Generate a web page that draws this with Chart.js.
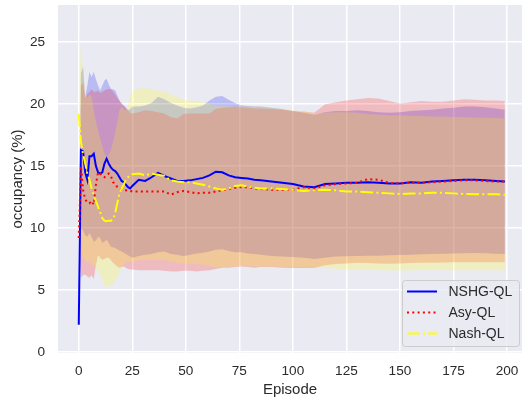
<!DOCTYPE html>
<html>
<head>
<meta charset="utf-8">
<script src="https://cdn.jsdelivr.net/npm/chart.js@4"></script>
<style>
  html, body { margin: 0; padding: 0; background: #ffffff; }
  canvas { display: block; }
</style>
</head>
<body>
<canvas id="chart" width="522" height="402"></canvas>
<script>
// Episode positions where the running statistics were sampled
const episodes = [
  0, 1, 2, 3, 4, 5, 6, 7, 8, 9, 10, 11, 12,
  13, 14, 15, 16, 17, 18, 19, 20, 21, 22, 23, 24, 25,
  28, 31, 34, 37, 40, 43, 46, 49, 52, 55, 58, 61, 64, 67, 70, 73, 76, 79, 82, 85,
  90, 95, 100, 105, 110, 115, 120, 125, 130, 135, 140, 145, 150, 155, 160, 165, 170, 175, 180, 185, 190, 195, 199
];

const seriesNames = ['NSHG-QL', 'Asy-QL', 'Nash-QL'];

// NSHG-QL: mean occupancy and band
const nshgMean = [
  2.2, 16.3, 16.2, 14.5, 13.9, 15.8, 15.8, 16.0, 15.0, 14.5, 14.4, 14.5, 15.2,
  15.6, 15.2, 14.9, 14.7, 14.6, 14.4, 14.1, 13.8, 13.7, 13.5, 13.3, 13.2, 13.4,
  13.9, 13.8, 14.1, 14.45, 14.2, 14.0, 13.8, 13.8, 13.85, 13.95, 14.05, 14.25, 14.55, 14.5, 14.25, 14.1, 14.05, 14.0, 13.9, 13.85,
  13.75, 13.65, 13.55, 13.35, 13.3, 13.55, 13.6, 13.65, 13.65, 13.7, 13.65, 13.6, 13.6, 13.7, 13.65, 13.75, 13.8, 13.85, 13.9, 13.9, 13.85, 13.8, 13.75
];
const nshgUpper = [
  3.2, 22.5, 23.0, 20.6, 21.5, 22.6, 22.2, 22.6, 22.0, 21.5, 21.1, 21.5, 21.9,
  22.05, 21.6, 21.25, 21.2, 21.1, 20.7, 20.3, 20.0, 19.9, 19.7, 19.5, 19.6, 19.8,
  19.8, 19.9, 20.1, 20.6, 20.4, 20.1, 19.9, 19.7, 19.65, 19.75, 19.9, 20.3, 20.6, 20.65, 20.35, 20.1, 19.9, 19.85, 19.8, 19.8,
  19.7, 19.6, 19.45, 19.3, 19.15, 19.35, 19.45, 19.45, 19.5, 19.45, 19.35, 19.3, 19.35, 19.45, 19.5, 19.55, 19.65, 19.7, 19.8, 19.8, 19.75, 19.65, 19.55
];
const nshgLower = [
  1.2, 10.0, 9.8, 9.4, 9.3, 9.6, 9.3, 8.9, 9.0, 9.3, 9.2, 8.8, 8.9,
  9.05, 8.8, 8.5, 8.45, 8.4, 8.3, 8.2, 8.1, 8.0, 7.9, 7.8, 7.7, 7.6,
  7.75, 7.85, 7.9, 8.05, 8.1, 7.9, 7.85, 7.75, 7.85, 7.95, 8.0, 8.1, 8.25, 8.3, 8.15, 8.05, 8.05, 7.95, 7.9, 7.85,
  7.75, 7.7, 7.67, 7.6, 7.5, 7.6, 7.7, 7.72, 7.75, 7.77, 7.77, 7.8, 7.82, 7.85, 7.88, 7.9, 7.93, 7.95, 7.97, 7.99, 7.97, 7.93, 7.9
];

// Asy-QL: mean occupancy and band
const asyMean = [
  9.2, 15.0, 13.1, 12.3, 12.1, 12.0, 12.2, 11.9, 13.5, 14.5, 14.4, 14.2, 14.1,
  14.3, 14.4, 14.2, 13.7, 13.6, 13.3, 13.15, 13.1, 13.1, 13.05, 13.0, 13.0, 12.95,
  12.95, 12.95, 12.95, 12.95, 12.95, 12.7, 12.9, 13.0, 12.9, 12.8, 12.85, 12.85, 12.95, 13.05, 13.15, 13.25, 13.3, 13.3, 13.2, 13.15,
  13.1, 13.1, 13.1, 13.3, 13.2, 13.45, 13.55, 13.6, 13.65, 13.95, 13.9, 13.65, 13.6, 13.65, 13.65, 13.7, 13.75, 13.8, 13.85, 13.85, 13.8, 13.75, 13.75
];
const asyUpper = [
  10.0, 21.5, 21.7, 20.5, 20.8, 21.0, 21.2, 21.0, 21.0, 21.1, 20.9, 21.0, 21.1,
  21.2, 21.25, 21.2, 21.0, 20.8, 20.5, 20.3, 20.1, 19.9, 19.7, 19.5, 19.3, 19.25,
  19.35, 19.5, 19.45, 19.35, 19.25, 18.95, 18.85, 19.2, 19.25, 19.25, 19.25, 19.25, 19.6, 19.7, 19.75, 19.8, 19.75, 19.7, 19.65, 19.65,
  19.6, 19.55, 19.45, 19.4, 19.3, 20.0, 20.15, 20.3, 20.4, 20.5, 20.45, 20.25, 20.05, 20.15, 20.25, 20.2, 20.2, 20.3, 20.4, 20.35, 20.3, 20.3, 20.25
];
const asyLower = [
  8.5, 6.0, 6.2, 6.25, 6.1, 6.0, 6.2, 5.9, 7.0, 7.8, 7.6, 7.45, 7.5,
  7.6, 7.6, 7.4, 7.2, 7.05, 6.9, 6.8, 6.85, 6.9, 6.8, 6.7, 6.65, 6.65,
  6.6, 6.6, 6.6, 6.6, 6.55, 6.5, 6.5, 6.55, 6.55, 6.5, 6.55, 6.6, 6.7, 6.8, 6.8, 6.85, 6.9, 6.85, 6.8, 6.85,
  6.85, 6.8, 6.78, 6.78, 6.78, 7.0, 7.1, 7.15, 7.2, 7.18, 7.15, 7.13, 7.15, 7.18, 7.2, 7.2, 7.22, 7.24, 7.25, 7.25, 7.25, 7.24, 7.24
];

// Nash-QL: mean occupancy and band
const nashMean = [
  19.2, 17.0, 16.0, 15.2, 14.4, 13.9, 13.2, 12.6, 12.2, 11.7, 11.3, 10.8, 10.6,
  10.55, 10.6, 10.6, 10.7, 11.2, 12.0, 12.8, 13.2, 13.5, 13.9, 14.1, 14.3, 14.35,
  14.4, 14.25, 14.4, 14.3, 14.2, 13.85, 13.75, 13.7, 13.7, 13.6, 13.5, 13.35, 13.2, 13.1, 13.2, 13.4, 13.45, 13.35, 13.25, 13.2,
  13.2, 13.15, 13.1, 13.0, 13.05, 13.1, 13.05, 12.95, 12.95, 12.9, 12.85, 12.8, 12.75, 12.78, 12.8, 12.85, 12.85, 12.8, 12.75, 12.72, 12.72, 12.72, 12.68
];
const nashUpper = [
  26.7, 23.5, 22.8, 21.0, 20.5, 20.8, 20.6, 19.5, 18.6, 17.9, 17.2, 16.6, 16.0,
  15.75, 15.9, 16.3, 16.9, 17.7, 18.6, 19.5, 19.8, 19.6, 19.5, 19.9, 20.6, 21.1,
  21.25, 21.3, 21.2, 21.1, 21.0, 20.8, 20.6, 20.35, 20.3, 20.2, 20.15, 20.0, 19.9, 19.85, 19.8, 19.8, 19.8, 19.8, 19.8, 19.8,
  19.7, 19.6, 19.5, 19.4, 19.25, 19.3, 19.35, 19.35, 19.3, 19.2, 19.15, 19.1, 19.1, 19.05, 19.05, 19.0, 19.0, 18.97, 18.95, 18.9, 18.9, 18.88, 18.85
];
const nashLower = [
  11.7, 8.0, 7.6, 7.4, 7.3, 7.2, 7.1, 7.0, 6.8, 6.5, 6.2, 5.75, 5.4,
  5.27, 5.3, 5.35, 5.5, 5.75, 6.1, 6.5, 6.8, 7.05, 7.2, 7.3, 7.32, 7.32,
  7.4, 7.45, 7.45, 7.45, 7.4, 7.32, 7.22, 7.15, 7.15, 7.1, 7.05, 6.95, 6.85, 6.85, 6.88, 6.9, 6.95, 6.92, 6.9, 6.9,
  6.9, 6.88, 6.86, 6.84, 6.8, 6.78, 6.72, 6.68, 6.65, 6.62, 6.6, 6.57, 6.57, 6.58, 6.6, 6.6, 6.6, 6.6, 6.6, 6.6, 6.6, 6.6, 6.6
];

const xTicks = [0, 25, 50, 75, 100, 125, 150, 175, 200];
const yTicks = [0, 5, 10, 15, 20, 25];

const FONT = '"Liberation Sans", Arial, Helvetica, sans-serif';
const TEXT = '#2b2b2b';

const toPoints = ys => episodes.map((x, i) => ({ x: x, y: ys[i] }));

// shaded band: upper edge followed by the lower edge filled back to it
function band(upper, lower, rgb, order) {
  const fillCol = 'rgba(' + rgb + ',0.2)';
  return [
    { label: '', data: toPoints(upper), borderWidth: 0, borderColor: 'rgba(0,0,0,0)',
      pointRadius: 0, fill: false, order: order, isBand: true },
    { label: '', data: toPoints(lower), borderWidth: 0, borderColor: 'rgba(0,0,0,0)',
      backgroundColor: fillCol, pointRadius: 0, fill: '-1', order: order, isBand: true }
  ];
}

function meanLine(name, values, color, dash, order) {
  return { label: name, data: toPoints(values), borderColor: color, borderWidth: 2,
    borderDash: dash, borderCapStyle: 'butt', pointRadius: 0, fill: false,
    order: order, isMeanLine: true };
}

const datasets = [].concat(
  band(nshgUpper, nshgLower, '0,0,255', 30),
  band(asyUpper, asyLower, '255,0,0', 20),
  band(nashUpper, nashLower, '255,255,0', 10),
  [
    meanLine(seriesNames[0], nshgMean, '#0000ff', [], 3),
    meanLine(seriesNames[1], asyMean, '#ff0000', [2, 3.3], 2),
    meanLine(seriesNames[2], nashMean, '#ffff00', [12.8, 3.2, 2, 3.2], 1)
  ]
);

// grey panel behind the plot
const panelBackground = {
  id: 'panelBackground',
  beforeDraw(chart) {
    const { ctx, chartArea: a } = chart;
    ctx.save();
    ctx.fillStyle = '#eaeaf2';
    ctx.fillRect(a.left, a.top, a.right - a.left, a.bottom - a.top);
    ctx.restore();
  }
};

// framed legend in the lower right corner of the plot
const cornerLegend = {
  id: 'cornerLegend',
  afterDatasetsDraw(chart) {
    const { ctx, chartArea: a } = chart;
    const items = chart.data.datasets.filter(d => d.isMeanLine);
    const w = 117, h = 66;
    const x0 = a.right - 3 - w, y0 = a.bottom - 7 - h;
    ctx.save();
    ctx.beginPath();
    if (ctx.roundRect) ctx.roundRect(x0 + 0.5, y0 + 0.5, w, h, 3); else ctx.rect(x0 + 0.5, y0 + 0.5, w, h);
    ctx.fillStyle = 'rgba(234,234,242,0.8)';
    ctx.fill();
    ctx.strokeStyle = '#cccccc';
    ctx.lineWidth = 1;
    ctx.stroke();
    ctx.font = '14px ' + FONT;
    ctx.textBaseline = 'middle';
    ctx.textAlign = 'left';
    items.forEach((d, i) => {
      const y = y0 + 11.5 + i * 21;
      ctx.beginPath();
      ctx.setLineDash(d.borderDash || []);
      ctx.lineCap = 'butt';
      ctx.strokeStyle = d.borderColor;
      ctx.lineWidth = d.borderWidth;
      ctx.moveTo(x0 + 5, y);
      ctx.lineTo(x0 + 35, y);
      ctx.stroke();
      ctx.setLineDash([]);
      ctx.fillStyle = TEXT;
      ctx.fillText(d.label, x0 + 46.5, y + 0.5);
    });
    ctx.restore();
  }
};

// fixed axis sizes; tick labels may overhang the plot edges
function fixAxis(size, horizontal) {
  return s => {
    if (horizontal) s.height = size; else s.width = size;
    s.paddingTop = 0; s.paddingBottom = 0; s.paddingLeft = 0; s.paddingRight = 0;
  };
}

new Chart(document.getElementById('chart'), {
  type: 'line',
  data: { datasets: datasets },
  plugins: [panelBackground, cornerLegend],
  options: {
    responsive: false,
    animation: false,
    devicePixelRatio: 1,
    layout: { padding: { top: 5, right: 0, bottom: 0, left: 0 } },
    elements: { line: { tension: 0 } },
    plugins: {
      legend: { display: false },
      tooltip: { enabled: false },
      filler: { propagate: false }
    },
    scales: {
      x: {
        type: 'linear',
        min: -9.7,
        max: 207,
        afterBuildTicks: s => { s.ticks = xTicks.map(v => ({ value: v })); },
        afterFit: fixAxis(49, true),
        grid: { color: '#ffffff', lineWidth: 1.5, drawTicks: false },
        border: { display: false },
        ticks: { color: TEXT, padding: 10, font: { family: FONT, size: 13.6 }, maxRotation: 0 },
        title: { display: true, text: 'Episode', color: TEXT, font: { family: FONT, size: 15 },
                 padding: { top: 0, bottom: 3 } }
      },
      y: {
        type: 'linear',
        min: -0.08,
        max: 28,
        afterBuildTicks: s => { s.ticks = yTicks.map(v => ({ value: v })); },
        afterFit: fixAxis(58, false),
        grid: { color: '#ffffff', lineWidth: 1.5, drawTicks: false },
        border: { display: false },
        ticks: { color: TEXT, padding: 13, font: { family: FONT, size: 13.6 } },
        title: { display: true, text: 'occupancy (%)', color: TEXT, font: { family: FONT, size: 15 },
                 padding: { top: 8.5, bottom: 0 } }
      }
    }
  }
});
</script>
</body>
</html>
